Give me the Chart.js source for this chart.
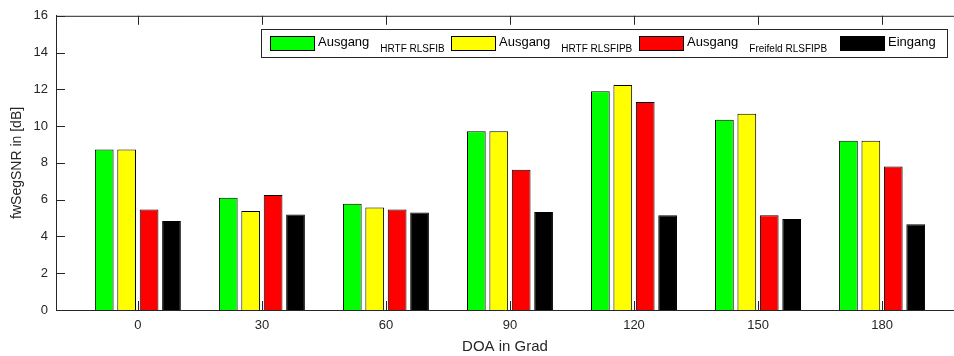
<!DOCTYPE html>
<html>
<head>
<meta charset="utf-8">
<script src="https://cdn.jsdelivr.net/npm/chart.js@4/dist/chart.umd.min.js"></script>
<style>
  html, body { margin: 0; padding: 0; background: #fff; overflow: hidden; }
</style>
</head>
<body>
<canvas id="myChart" width="954" height="356"></canvas>
<script>
// DOA angles (x positions of the groups)
const angles = [0, 30, 60, 90, 120, 150, 180];

// fwSegSNR values in dB
const hrtfRlsfib = [8.73, 6.11, 5.78, 9.72, 11.89, 10.34, 9.2];
const hrtfRlsfipb = [8.73, 5.39, 5.57, 9.72, 12.24, 10.67, 9.2];
const freifeldRlsfipb = [5.46, 6.25, 5.46, 7.63, 11.31, 5.15, 7.81];
const eingang = [4.84, 5.2, 5.3, 5.33, 5.15, 4.95, 4.66];

// Legend: main text + subscript
const legendLabels = [
  { text: "Ausgang", sub: "HRTF RLSFIB", color: "#00ff00" },
  { text: "Ausgang", sub: "HRTF RLSFIPB", color: "#ffff00" },
  { text: "Ausgang", sub: "Freifeld RLSFIPB", color: "#ff0000" },
  { text: "Eingang", sub: "", color: "#000000" },
];
// swatch left edges in the legend box
const swatchX = [270, 451, 639, 840];

const yTicks = [0, 2, 4, 6, 8, 10, 12, 14, 16];

const axisColor = "#262626";
const fontFamily = "'Liberation Sans', Arial, Helvetica, sans-serif";

function toPoints(values) {
  return values.map((v, i) => ({ x: angles[i], y: v }));
}

// Inward ticks + top border + custom legend with subscripts
const matlabLook = {
  id: "matlabLook",
  afterDraw(chart) {
    const ctx = chart.ctx;
    const area = chart.chartArea;
    const xs = chart.scales.x;
    const ys = chart.scales.y;
    const tickLen = 9;

    ctx.save();
    ctx.strokeStyle = axisColor;
    ctx.lineWidth = 1;

    // top border
    ctx.beginPath();
    ctx.moveTo(area.left, area.top + 0.5);
    ctx.lineTo(area.right, area.top + 0.5);
    ctx.stroke();

    // x ticks, top and bottom
    angles.forEach((a) => {
      const px = Math.round(xs.getPixelForValue(a)) + 0.5;
      ctx.beginPath();
      ctx.moveTo(px, area.top);
      ctx.lineTo(px, area.top + tickLen);
      ctx.moveTo(px, area.bottom);
      ctx.lineTo(px, area.bottom - tickLen);
      ctx.stroke();
    });

    // y ticks on the left
    yTicks.forEach((t) => {
      const py = Math.round(ys.getPixelForValue(t)) + 0.5;
      ctx.beginPath();
      ctx.moveTo(area.left, py);
      ctx.lineTo(area.left + tickLen, py);
      ctx.stroke();
    });

    // legend
    const boxLeft = 261.5, boxTop = 29.5, boxRight = 947.5, boxBottom = 57.5;
    ctx.fillStyle = "#ffffff";
    ctx.fillRect(boxLeft, boxTop, boxRight - boxLeft, boxBottom - boxTop);
    ctx.strokeStyle = axisColor;
    ctx.strokeRect(boxLeft, boxTop, boxRight - boxLeft, boxBottom - boxTop);

    legendLabels.forEach((item, i) => {
      let x = swatchX[i];
      ctx.fillStyle = item.color;
      ctx.fillRect(x, 36, 45, 15);
      ctx.strokeStyle = "#000000";
      ctx.strokeRect(x + 0.5, 36.5, 44, 14);
      x += 48;

      ctx.fillStyle = "#000000";
      ctx.textBaseline = "alphabetic";
      ctx.textAlign = "left";
      ctx.font = "13px " + fontFamily;
      ctx.fillText(item.text, x, 46);
      x += ctx.measureText(item.text).width;

      if (item.sub) {
        x += 11;
        ctx.font = "10px " + fontFamily;
        ctx.fillText(item.sub, x, 52);
      }
    });

    ctx.restore();
  },
};

const data = {
  datasets: [
    { label: "Ausgang HRTF RLSFIB", data: toPoints(hrtfRlsfib), backgroundColor: "#00ff00" },
    { label: "Ausgang HRTF RLSFIPB", data: toPoints(hrtfRlsfipb), backgroundColor: "#ffff00" },
    { label: "Ausgang Freifeld RLSFIPB", data: toPoints(freifeldRlsfipb), backgroundColor: "#ff0000" },
    { label: "Eingang", data: toPoints(eingang), backgroundColor: "#000000" },
  ].map((ds) => ({
    ...ds,
    borderColor: "#000000",
    borderWidth: 1,
    categoryPercentage: 0.723,
    barPercentage: 0.835,
  })),
};

const config = {
  type: "bar",
  data: data,
  options: {
    responsive: false,
    animation: false,
    layout: { padding: { top: 15, right: 0, left: 0, bottom: 0 } },
    plugins: {
      legend: { display: false },
      tooltip: { enabled: false },
    },
    scales: {
      x: {
        type: "linear",
        offset: false,
        min: -19.8,
        max: 197.4,
        afterBuildTicks(scale) {
          scale.ticks = angles.map((a) => ({ value: a }));
        },
        afterFit(scale) {
          scale.height = 46;
        },
        grid: { display: false, drawTicks: false, offset: false },
        border: { display: true, color: axisColor, width: 1 },
        ticks: {
          color: axisColor,
          font: { family: fontFamily, size: 13 },
          padding: 8,
          maxRotation: 0,
        },
        title: {
          display: true,
          text: "DOA in Grad",
          color: axisColor,
          font: { family: fontFamily, size: 15 },
          padding: { top: 0, bottom: 0 },
        },
      },
      y: {
        min: 0,
        max: 16,
        afterBuildTicks(scale) {
          scale.ticks = yTicks.map((t) => ({ value: t }));
        },
        afterFit(scale) {
          scale.width = 56;
        },
        grid: { display: false, drawTicks: false },
        border: { display: true, color: axisColor, width: 1 },
        ticks: {
          color: axisColor,
          font: { family: fontFamily, size: 13 },
          padding: 8,
        },
        title: {
          display: true,
          text: "fwSegSNR in [dB]",
          color: axisColor,
          font: { family: fontFamily, size: 14 },
          padding: { top: 9, bottom: 0 },
        },
      },
    },
  },
  plugins: [matlabLook],
};

const ctx = document.getElementById("myChart").getContext("2d");
const myChart = new Chart(ctx, config);
</script>
</body>
</html>
